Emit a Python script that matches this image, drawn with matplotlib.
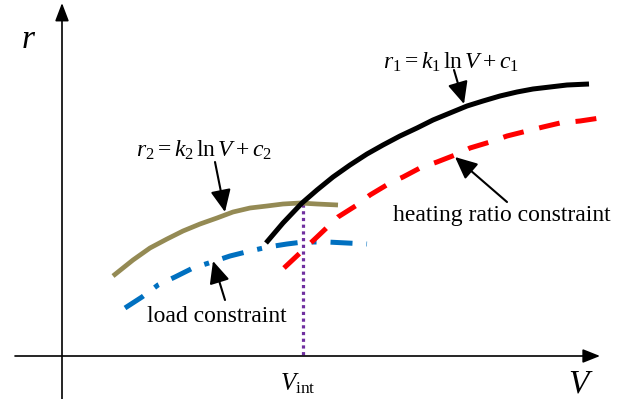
import matplotlib
matplotlib.use("Agg")
import matplotlib.pyplot as plt

plt.rcParams['font.family'] = ['Liberation Serif', 'DejaVu Serif']
plt.rcParams['mathtext.fontset'] = 'custom'
plt.rcParams['mathtext.rm'] = 'Liberation Serif'
plt.rcParams['mathtext.it'] = 'Liberation Serif:italic'
plt.rcParams['mathtext.bf'] = 'Liberation Serif:bold'

# ---- schematic curves (canvas units, y grows downward) ----
r1_x = [266, 283, 302, 317, 333, 350, 367, 383, 400, 417, 433, 450, 467,
        483, 500, 517, 533, 550, 567, 589]
r1_y = [243, 223, 203, 190, 177, 165, 154, 145, 136, 128, 120, 113, 106,
        101, 96, 92, 89, 87, 85, 84]

heat_x = [284, 300, 317, 338, 357, 370, 390, 403, 420, 437, 455, 470, 490,
          507, 527, 543, 560, 580, 600]
heat_y = [268, 253, 237, 217, 205, 195, 183, 177, 168, 162, 155, 148, 142,
          136, 131, 127, 123, 121, 118]

r2_x = [113, 133, 150, 167, 183, 200, 217, 233, 250, 267, 283, 300, 317, 338]
r2_y = [276, 260, 248, 239, 231, 224, 218, 212, 208, 206, 204, 203, 204, 205]

load_x = [125, 142, 158, 175, 193, 212, 230, 250, 268, 287, 303, 327, 347, 367]
load_y = [308, 297, 285, 277, 268, 262, 256, 251, 247, 244, 242, 242, 243, 244]

v_int = 303
v_int_top = 204
x_axis_y = 356
y_axis_x = 62

fig = plt.figure(figsize=(6.36, 3.99), dpi=100)
ax = fig.add_axes([0, 0, 1, 1])
ax.set_xlim(0, 636)
ax.set_ylim(399, 0)
ax.axis('off')

# axes arrows
ax.annotate('', xy=(y_axis_x, 3), xytext=(y_axis_x, 399),
            arrowprops=dict(arrowstyle='-|>,head_length=1.1,head_width=0.42',
                            mutation_scale=10, lw=1.2, color='k',
                            shrinkA=0, shrinkB=0))
ax.annotate('', xy=(600, x_axis_y), xytext=(15, x_axis_y),
            arrowprops=dict(arrowstyle='-|>,head_length=1.05,head_width=0.42',
                            mutation_scale=10, lw=1.2, color='k',
                            shrinkA=0, shrinkB=0))

# vertical dotted line at V_int
ax.plot([v_int, v_int], [v_int_top, x_axis_y], color='#7030A0', lw=2.3,
        dashes=(1, 1.1), solid_capstyle='butt', dash_capstyle='butt')

# curves
ax.plot(r2_x, r2_y, color='#948A54', lw=3.4, solid_capstyle='butt',
        solid_joinstyle='round')
ax.plot(load_x, load_y, color='#0070C0', lw=3.6, dashes=(4.4, 2.8, 1.0, 2.8),
        dash_capstyle='butt', dash_joinstyle='round')
ax.plot(heat_x, heat_y, color='#FF0000', lw=3.6, dashes=(4.2, 3.2),
        dash_capstyle='butt', dash_joinstyle='round')
ax.plot(r1_x, r1_y, color='k', lw=3.6, solid_capstyle='butt',
        solid_joinstyle='round')

# annotation arrows
aprops = dict(arrowstyle='-|>,head_length=1.35,head_width=0.62',
              mutation_scale=10, lw=1.5, color='k', shrinkA=0, shrinkB=0)
ax.annotate('', xy=(464, 104), xytext=(454, 70), arrowprops=aprops)
ax.annotate('', xy=(225, 212), xytext=(215, 162), arrowprops=aprops)
ax.annotate('', xy=(455, 157), xytext=(507, 202), arrowprops=aprops)
ax.annotate('', xy=(213, 261), xytext=(225, 300), arrowprops=aprops)

# texts
ax.text(29, 40, r'$r$', fontsize=24, ha='center', va='center')
ax.text(581, 384, r'$V$', fontsize=24, ha='center', va='center')
ax.text(298, 384, r'$V_{\mathrm{int}}$', fontsize=18, ha='center', va='center')
ax.text(451, 62, r'$r_1 = k_1\,\ln V + c_1$', fontsize=17,
        ha='center', va='center')
ax.text(204, 150, r'$r_2 = k_2\,\ln V + c_2$', fontsize=17,
        ha='center', va='center')
ax.text(502, 216, 'heating ratio constraint', fontsize=17, ha='center', va='center')
ax.text(217, 317, 'load constraint', fontsize=17, ha='center', va='center')

fig.savefig('out.png', dpi=100)
